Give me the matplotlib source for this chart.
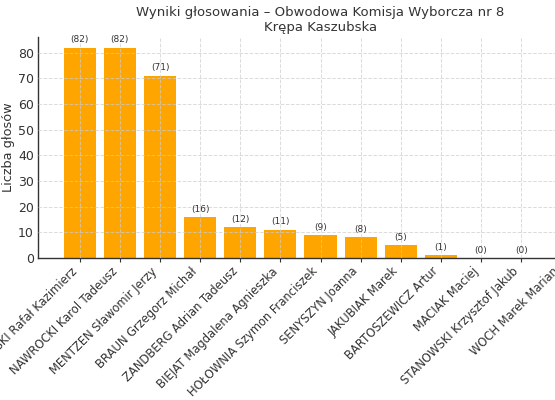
import matplotlib
matplotlib.use("Agg")
import matplotlib.pyplot as plt

candidates = [
    "TRZASKOWSKI Rafał Kazimierz",
    "NAWROCKI Karol Tadeusz",
    "MENTZEN Sławomir Jerzy",
    "BRAUN Grzegorz Michał",
    "ZANDBERG Adrian Tadeusz",
    "BIEJAT Magdalena Agnieszka",
    "HOŁOWNIA Szymon Franciszek",
    "SENYSZYN Joanna",
    "JAKUBIAK Marek",
    "BARTOSZEWICZ Artur",
    "MACIAK Maciej",
    "STANOWSKI Krzysztof Jakub",
    "WOCH Marek Marian",
]
votes = [82, 82, 71, 16, 12, 11, 9, 8, 5, 1, 0, 0, 0]

title = "Wyniki głosowania – Obwodowa Komisja Wyborcza nr 8\nKrępa Kaszubska"
ylabel = "Liczba głosów"

text_color = "#333333"
plt.rcParams["font.family"] = ["DejaVu Sans"]

fig = plt.figure(figsize=(5.55, 4.0), dpi=100)
ax = fig.add_axes([0.0685, 0.355, 1.018, 0.5525])

x = list(range(len(candidates)))
bars = ax.bar(x, votes, color="#FFA500", width=0.8, zorder=1)
ax.set_ylim(0, 86.1)

for xi, v in zip(x, votes):
    ax.text(xi, v + 1.3, f"({v})", ha="center", va="bottom", fontsize=6.5, color=text_color)

ax.set_xticks(x)
ax.set_xticklabels(candidates, rotation=45, ha="right", fontsize=8.3, color=text_color)
ax.set_yticks(range(0, 81, 10))
ax.tick_params(axis="y", length=0, labelsize=9, labelcolor=text_color, pad=3)
ax.tick_params(axis="x", length=3, color=text_color, pad=2)
ax.set_ylabel(ylabel, fontsize=9.3, color=text_color, labelpad=2)
ax.set_title(title, fontsize=9.5, color=text_color, pad=4)

ax.grid(True, linestyle="--", color="#cccccc", linewidth=0.7, alpha=0.7, zorder=2)
ax.set_axisbelow(False)
for s in ["top", "right"]:
    ax.spines[s].set_visible(False)
for s in ["left", "bottom"]:
    ax.spines[s].set_color(text_color)
    ax.spines[s].set_linewidth(1.0)

fig.savefig("out.png", dpi=100)
